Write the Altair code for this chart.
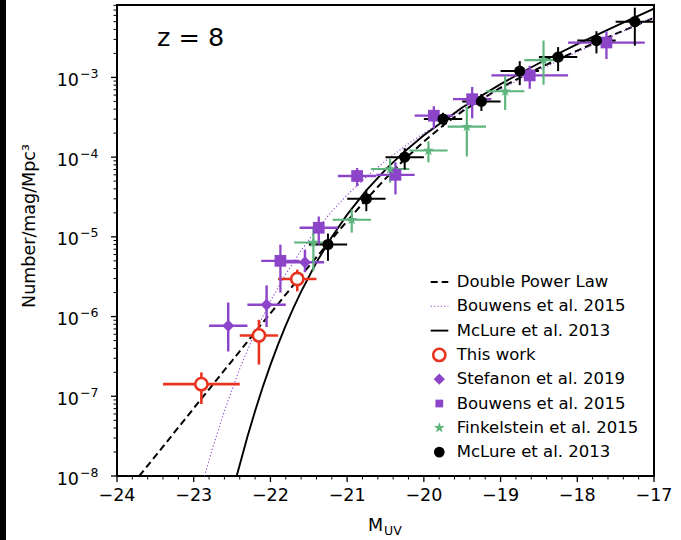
import altair as alt
import pandas as pd

# ---------------- data ----------------
# This work (red open circles)
tw_M = [-22.90, -22.15, -21.65]
tw_phi = [1.42e-7, 5.8e-7, 2.96e-6]
tw_lo = [8.0e-8, 2.5e-7, 2.07e-6]
tw_hi = [1.99e-7, 9.1e-7, 3.87e-6]
tw_dM = [0.5, 0.25, 0.25]

# Stefanon et al. 2019 (purple diamonds)
st_M = [-22.55, -22.05, -21.55]
st_phi = [7.65e-7, 1.41e-6, 4.79e-6]
st_lo = [3.65e-7, 7.4e-7, 3.6e-6]
st_hi = [1.5e-6, 2.46e-6, 6.9e-6]
st_dM = [0.25, 0.25, 0.25]

# Bouwens et al. 2015 (purple squares)
bw_M = [-21.87, -21.37, -20.87, -20.37, -19.87, -19.37, -18.62, -17.62]
bw_phi = [5.0e-6, 1.3e-5, 5.8e-5, 6.0e-5, 3.31e-4, 5.33e-4, 1.06e-3, 2.74e-3]
bw_err = [3.0e-6, 5.0e-6, 1.5e-5, 2.6e-5, 1.04e-4, 2.26e-4, 3.4e-4, 1.04e-3]
bw_dM = [0.25, 0.25, 0.25, 0.25, 0.25, 0.25, 0.5, 0.5]

# Finkelstein et al. 2015 (green stars)
fk_M = [-21.44, -20.94, -20.44, -19.94, -19.44, -18.94, -18.44]
fk_phi = [8.5e-6, 1.64e-5, 7.1e-5, 1.21e-4, 2.41e-4, 6.7e-4, 1.65e-3]
fk_lo = [3.7e-6, 1.13e-5, 4.8e-5, 8.6e-5, 1.02e-4, 3.9e-4, 8.1e-4]
fk_hi = [1.27e-5, 2.2e-5, 9.5e-5, 1.58e-4, 4.3e-4, 1.05e-3, 2.9e-3]
fk_dM = [0.25, 0.25, 0.25, 0.25, 0.25, 0.25, 0.25]

# McLure et al. 2013 (black circles)
mc_M = [-21.25, -20.75, -20.25, -19.75, -19.25, -18.75, -18.25, -17.75, -17.25]
mc_phi = [8.0e-6, 3.0e-5, 1.0e-4, 3.0e-4, 5.0e-4, 1.2e-3, 1.8e-3, 2.9e-3, 5.0e-3]
mc_err = [3.0e-6, 9.0e-6, 3.0e-5, 6.0e-5, 1.2e-4, 4.0e-4, 6.0e-4, 9.0e-4, 2.5e-3]
mc_dM = [0.25] * 9

# Curves
dpl_M = [-23.71, -23.5, -23.25, -23.0, -22.75, -22.5, -22.25, -22.0, -21.75, -21.5,
         -21.25, -21.0, -20.75, -20.5, -20.25, -20.0, -19.75, -19.5, -19.0, -18.5,
         -18.0, -17.5, -17.0]
dpl_phi = [1.0e-8, 1.774e-8, 3.54e-8, 7.06e-8, 1.406e-7, 2.79e-7, 5.56e-7, 1.099e-6,
           2.17e-6, 4.26e-6, 8.26e-6, 1.578e-5, 2.96e-5, 5.38e-5, 9.42e-5, 1.57e-4,
           2.49e-4, 3.75e-4, 7.43e-4, 1.309e-3, 2.17e-3, 3.51e-3, 5.60e-3]

b15_M = [-22.86, -22.75, -22.6, -22.4, -22.2, -22.0, -21.8, -21.6, -21.4, -21.2,
         -21.0, -20.75, -20.5, -20.25, -20.0, -19.5, -19.0, -18.5, -18.0, -17.5, -17.0]
b15_phi = [1.0e-8, 2.30e-8, 6.56e-8, 2.22e-7, 6.34e-7, 1.561e-6, 3.41e-6, 6.76e-6,
           1.23e-5, 2.09e-5, 3.35e-5, 5.65e-5, 9.0e-5, 1.366e-4, 2.0e-4, 3.93e-4,
           7.16e-4, 1.243e-3, 2.09e-3, 3.46e-3, 5.65e-3]

m13_M = [-22.44, -22.3, -22.2, -22.1, -22.0, -21.9, -21.8, -21.7, -21.6, -21.4, -21.2,
         -21.0, -20.75, -20.5, -20.25, -20.0, -19.5, -19.0, -18.5, -18.0, -17.5, -17.0]
m13_phi = [1.0e-8, 3.10e-8, 6.55e-8, 1.307e-7, 2.48e-7, 4.48e-7, 7.73e-7, 1.285e-6,
           2.06e-6, 4.79e-6, 9.98e-6, 1.897e-5, 3.82e-5, 6.97e-5, 1.18e-4, 1.881e-4,
           4.19e-4, 8.25e-4, 1.507e-3, 2.62e-3, 4.41e-3, 7.30e-3]

legend_labels = ["Double Power Law", "Bouwens et al. 2015", "McLure et al. 2013",
                 "This work", "Stefanon et al. 2019", "Bouwens et al. 2015",
                 "Finkelstein et al. 2015", "McLure et al. 2013"]

# tick values / labels
y_major_vals = [1e-8, 1e-7, 1e-6, 1e-5, 1e-4, 1e-3]
y_major_exp = ["−8", "−7", "−6", "−5", "−4", "−3"]
x_major_vals = [-24, -23, -22, -21, -20, -19, -18, -17]
x_major_labels = ["−24", "−23", "−22", "−21", "−20", "−19", "−18", "−17"]

# ---------------- styling ----------------
FONT = "DejaVu Sans"
RED = "#E8341F"
PURPLE = "#8C45C9"
GREEN = "#5DB47C"
BLACK = "#000000"
STAR = ("M0,-1L0.2245,-0.309L0.9511,-0.309L0.3633,0.118L0.5878,0.809L0,0.382"
        "L-0.5878,0.809L-0.3633,0.118L-0.9511,-0.309L-0.2245,-0.309Z")

W, H = 537, 471
xscale = alt.Scale(domain=[-24, -17], nice=False, zero=False)
yscale = alt.Scale(type="log", domain=[1e-8, 8.1e-3], nice=False)
X = lambda f: alt.X(f, scale=xscale, axis=None)
Y = lambda f: alt.Y(f, scale=yscale, axis=None)

y_minor_vals = []
for v0 in y_major_vals:
    for k in range(2, 10):
        if k * v0 < 8.1e-3:
            y_minor_vals.append(k * v0)
x_minor_vals = [round(-24 + 0.2 * i, 1) for i in range(36) if i % 5 != 0]

# ---------------- tables ----------------
series_names = ["This work", "Stefanon", "Bouwens", "Finkelstein", "McLure"]
series_colors = [RED, PURPLE, PURPLE, GREEN, BLACK]
series_shapes = ["circle", "diamond", "square", STAR, "circle"]
series_sizes = [150, 125, 60, 130, 115]
series_lw = [2.6, 2.0, 2.0, 2.0, 2.0]

rows = []
def add(name, M, phi, lo, hi, dM):
    for m, p, l, h, d in zip(M, phi, lo, hi, dM):
        rows.append({"series": name, "M": m, "phi": p, "lo": l, "hi": h,
                     "xlo": m - d, "xhi": m + d})

add("Stefanon", st_M, st_phi, st_lo, st_hi, st_dM)
add("Bouwens", bw_M, bw_phi, [p - e for p, e in zip(bw_phi, bw_err)],
    [p + e for p, e in zip(bw_phi, bw_err)], bw_dM)
add("Finkelstein", fk_M, fk_phi, fk_lo, fk_hi, fk_dM)
add("McLure", mc_M, mc_phi, [p - e for p, e in zip(mc_phi, mc_err)],
    [p + e for p, e in zip(mc_phi, mc_err)], mc_dM)
add("This work", tw_M, tw_phi, tw_lo, tw_hi, tw_dM)
pts = pd.DataFrame(rows)
pts["order"] = pts["series"].map(
    {n: i for i, n in enumerate(["Stefanon", "Bouwens", "Finkelstein", "McLure", "This work"])})

col = alt.Color("series:N", scale=alt.Scale(domain=series_names, range=series_colors), legend=None)
shp = alt.Shape("series:N", scale=alt.Scale(domain=series_names, range=series_shapes), legend=None)
siz = alt.Size("series:N", scale=alt.Scale(domain=series_names, range=series_sizes), legend=None)
swd = alt.StrokeWidth("series:N", scale=alt.Scale(domain=series_names, range=series_lw), legend=None)

curves = pd.concat([
    pd.DataFrame({"curve": "dpl", "M": dpl_M, "phi": dpl_phi}),
    pd.DataFrame({"curve": "b15", "M": b15_M, "phi": b15_phi}),
    pd.DataFrame({"curve": "m13", "M": m13_M, "phi": m13_phi}),
])

layers = []
# ---- axes drawn through the scales ----
ymaj = pd.DataFrame({"v": y_major_vals, "e": y_major_exp})
ymin = pd.DataFrame({"v": y_minor_vals})
xmaj = pd.DataFrame({"v": x_major_vals, "lab": x_major_labels})
xmin = pd.DataFrame({"v": x_minor_vals})

layers.append(alt.Chart(ymaj).mark_rule(color=BLACK, strokeWidth=1.3).encode(
    y=Y("v:Q"), x=alt.value(-6), x2=alt.value(0)))
layers.append(alt.Chart(ymin).mark_rule(color=BLACK, strokeWidth=1.0).encode(
    y=Y("v:Q"), x=alt.value(-3.5), x2=alt.value(0)))
layers.append(alt.Chart(xmaj).mark_rule(color=BLACK, strokeWidth=1.3).encode(
    x=X("v:Q"), y=alt.value(H), y2=alt.value(H + 6)))
layers.append(alt.Chart(xmin).mark_rule(color=BLACK, strokeWidth=1.0).encode(
    x=X("v:Q"), y=alt.value(H), y2=alt.value(H + 3.5)))
layers.append(alt.Chart(ymaj).mark_text(text="10", font=FONT, fontSize=17.5, align="right",
                                        baseline="middle", color=BLACK, dy=3.5).encode(
    y=Y("v:Q"), x=alt.value(-38)))
layers.append(alt.Chart(ymaj).mark_text(font=FONT, fontSize=12.5, align="left",
                                        baseline="middle", color=BLACK, dy=-3.5).encode(
    y=Y("v:Q"), x=alt.value(-37), text="e:N"))
layers.append(alt.Chart(xmaj).mark_text(font=FONT, fontSize=17.5, align="center",
                                        baseline="top", color=BLACK).encode(
    x=X("v:Q"), y=alt.value(H + 11), text="lab:N"))

# ---- curves ----
layers.append(alt.Chart(curves).transform_filter("datum.curve == 'dpl'").mark_line(
    color=BLACK, strokeWidth=2.0, strokeDash=[7, 4], clip=True).encode(
    x=X("M:Q"), y=Y("phi:Q"), order="M:Q"))
layers.append(alt.Chart(curves).transform_filter("datum.curve == 'b15'").mark_line(
    color=PURPLE, strokeWidth=1.1, strokeDash=[1.2, 2.2], clip=True).encode(
    x=X("M:Q"), y=Y("phi:Q"), order="M:Q"))
layers.append(alt.Chart(curves).transform_filter("datum.curve == 'm13'").mark_line(
    color=BLACK, strokeWidth=1.9, clip=True).encode(
    x=X("M:Q"), y=Y("phi:Q"), order="M:Q"))

# ---- data points ----
layers.append(alt.Chart(pts).mark_rule().encode(
    x=X("xlo:Q"), x2="xhi:Q", y=Y("phi:Q"), color=col, strokeWidth=swd, order="order:Q"))
layers.append(alt.Chart(pts).mark_rule().encode(
    x=X("M:Q"), y=Y("lo:Q"), y2="hi:Q", color=col, strokeWidth=swd, order="order:Q"))
layers.append(alt.Chart(pts).transform_filter("datum.series != 'This work'").mark_point(
    filled=True, opacity=1, strokeWidth=0).encode(
    x=X("M:Q"), y=Y("phi:Q"), color=col, shape=shp, size=siz, order="order:Q"))
layers.append(alt.Chart(pts).transform_filter("datum.series == 'This work'").mark_point(
    shape="circle", size=150, filled=True, fill="white", stroke=RED, strokeWidth=2.6,
    opacity=1).encode(x=X("M:Q"), y=Y("phi:Q")))

one = pd.DataFrame({"a": [0]})
# "z = 8" annotation
layers.append(alt.Chart(one).mark_text(text="z = 8", font=FONT, fontSize=25.5, align="left",
                                       baseline="alphabetic", color=BLACK).encode(
    x=alt.value(40), y=alt.value(41)))
# axis titles
layers.append(alt.Chart(one).mark_text(text="Number/mag/Mpc³", font=FONT, fontSize=17.5,
                                       angle=270, align="center", baseline="alphabetic",
                                       color=BLACK).encode(
    x=alt.value(-82), y=alt.value(221)))
layers.append(alt.Chart(one).mark_text(text="M", font=FONT, fontSize=17.5, align="left",
                                       baseline="alphabetic", color=BLACK).encode(
    x=alt.value(251), y=alt.value(526)))
layers.append(alt.Chart(one).mark_text(text="UV", font=FONT, fontSize=12.5, align="left",
                                       baseline="alphabetic", color=BLACK).encode(
    x=alt.value(267), y=alt.value(530)))

# ---- legend ----
LX0, LX1, LXM, LXT = 313.7, 331.3, 322.3, 339.7
LY0, LDY = 277.0, 24.3
layers.append(alt.Chart(one).mark_rule(color=BLACK, strokeWidth=2.0, strokeDash=[7, 4]).encode(
    x=alt.value(LX0), x2=alt.value(LX1), y=alt.value(LY0)))
layers.append(alt.Chart(one).mark_rule(color=PURPLE, strokeWidth=1.1, strokeDash=[1.2, 2.2]).encode(
    x=alt.value(LX0), x2=alt.value(LX1), y=alt.value(LY0 + LDY)))
layers.append(alt.Chart(one).mark_rule(color=BLACK, strokeWidth=1.9).encode(
    x=alt.value(LX0), x2=alt.value(LX1), y=alt.value(LY0 + 2 * LDY)))
layers.append(alt.Chart(one).mark_point(shape="circle", size=150, filled=True, fill="white",
                                        stroke=RED, strokeWidth=2.6, opacity=1).encode(
    x=alt.value(LXM), y=alt.value(LY0 + 3 * LDY)))
for j, (shape, c, s) in enumerate([("diamond", PURPLE, 125), ("square", PURPLE, 60),
                                   (STAR, GREEN, 130), ("circle", BLACK, 115)]):
    layers.append(alt.Chart(one).mark_point(shape=shape, size=s, filled=True, color=c,
                                            opacity=1, strokeWidth=0).encode(
        x=alt.value(LXM), y=alt.value(LY0 + (4 + j) * LDY)))
for i, lab in enumerate(legend_labels):
    layers.append(alt.Chart(one).mark_text(text=lab, font=FONT, fontSize=16.5, align="left",
                                           baseline="middle", color=BLACK).encode(
        x=alt.value(LXT), y=alt.value(LY0 + i * LDY)))

# dark strip at the left edge of the reference picture
layers.append(alt.Chart(one).mark_rect(color=BLACK).encode(
    x=alt.value(-117), x2=alt.value(-111), y=alt.value(-5), y2=alt.value(535)))

chart = alt.layer(*layers).properties(
    width=W, height=H,
    background="white",
    autosize=alt.AutoSizeParams(type="none"),
    padding={"left": 117, "top": 5, "right": 27, "bottom": 64},
).configure_view(stroke="black", strokeWidth=2)

chart.save("out.html", embed_options={"renderer": "svg", "actions": False})
